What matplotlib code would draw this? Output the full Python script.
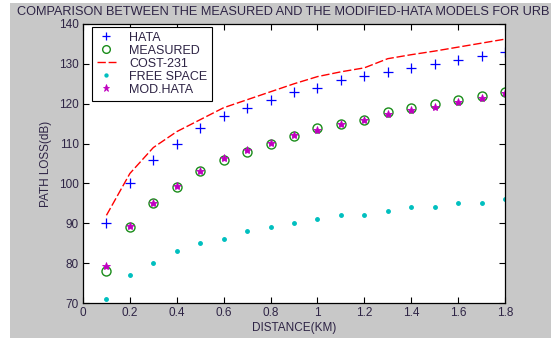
import matplotlib.pyplot as plt
from matplotlib.patches import Rectangle

plt.rcParams['font.family'] = ['Liberation Sans', 'DejaVu Sans']

distance = [0.1, 0.2, 0.3, 0.4, 0.5, 0.6, 0.7, 0.8, 0.9,
            1.0, 1.1, 1.2, 1.3, 1.4, 1.5, 1.6, 1.7, 1.8]
hata = [90, 100, 106, 110, 114, 117, 119, 121, 123,
        124, 126, 127, 128, 129, 130, 131, 132, 133]
measured = [78, 89, 95, 99, 103, 106, 108, 110, 112,
            114, 115, 116, 118, 119, 120, 121, 122, 123]
cost231 = [92, 102.5, 109, 113, 116, 119, 121, 123, 125,
           126.8, 128, 129, 131.3, 132.3, 133.2, 134.2, 135.2, 136.2]
free_space = [71, 77, 80, 83, 85, 86, 88, 89, 90,
              91, 92, 92, 93, 94, 94, 95, 95, 96]
mod_hata = [79.2, 89.2, 95.2, 99.4, 103.2, 106.3, 108.3, 110.2, 112.2,
            113.4, 115, 116, 117.4, 118.4, 119.3, 120.4, 121.4, 122.6]

x_ticks = [0, 0.2, 0.4, 0.6, 0.8, 1, 1.2, 1.4, 1.6, 1.8]
x_ticklabels = ["0", "0.2", "0.4", "0.6", "0.8", "1", "1.2", "1.4", "1.6", "1.8"]
y_ticks = [70, 80, 90, 100, 110, 120, 130, 140]

# title is cut at the right edge in the original figure
title = 'COMPARISON BETWEEN THE MEASURED AND THE MODIFIED-HATA MODELS FOR URB'

txt = '#2e2445'

fig = plt.figure(figsize=(5.51, 3.38), dpi=100, facecolor='white')
# grey matlab-style figure background
fig.patches.append(Rectangle((10 / 551, 0), 1, 1 - 3 / 338,
                             transform=fig.transFigure,
                             facecolor='#c8c8c8', edgecolor='none', zorder=-5))

ax = fig.add_axes([83 / 551, 35 / 338, 422 / 551, 279 / 338])
ax.set_facecolor('white')

ax.plot(distance, hata, '+', color='#0000ff', ms=7, mew=0.9, label='HATA')
ax.plot(distance, measured, 'o', mfc='none', mec='#1a8c1a', ms=6.5, mew=1,
        label='MEASURED')
ax.plot(distance, cost231, '--', color='#ff0000', lw=1, dashes=(6, 2),
        label='COST-231')
ax.plot(distance, free_space, '.', color='#00bfbf', ms=5, label='FREE SPACE')
ax.plot(distance, mod_hata, '*', color='#bf00bf', ms=6, mew=0.6,
        label='MOD.HATA')

ax.set_xlim(0, 1.8)
ax.set_ylim(70, 140)
ax.set_xticks(x_ticks)
ax.set_xticklabels(x_ticklabels)
ax.set_yticks(y_ticks)
ax.tick_params(direction='in', top=True, right=True, length=4, width=0.8,
               labelsize=8.5, labelcolor=txt, pad=3)
for s in ax.spines.values():
    s.set_linewidth(0.9)

ax.set_xlabel('DISTANCE(KM)', fontsize=8.5, color=txt, labelpad=2)
ax.set_ylabel('PATH LOSS(dB)', fontsize=8.5, color=txt, labelpad=5)

fig.text(17 / 551, 1 - 12 / 338, title,
         fontsize=9.2, color=txt, va='center', ha='left')

leg = ax.legend(loc='upper left', bbox_to_anchor=(0.021, 0.99),
                borderaxespad=0, fontsize=9, fancybox=False, framealpha=1,
                edgecolor='black', handlelength=1.5, labelspacing=0.08,
                borderpad=0.4, handletextpad=1.1, markerscale=0.85)
leg.get_frame().set_linewidth(0.8)
for t in leg.get_texts():
    t.set_color(txt)

plt.savefig('out.png', dpi=100, facecolor=fig.get_facecolor())
